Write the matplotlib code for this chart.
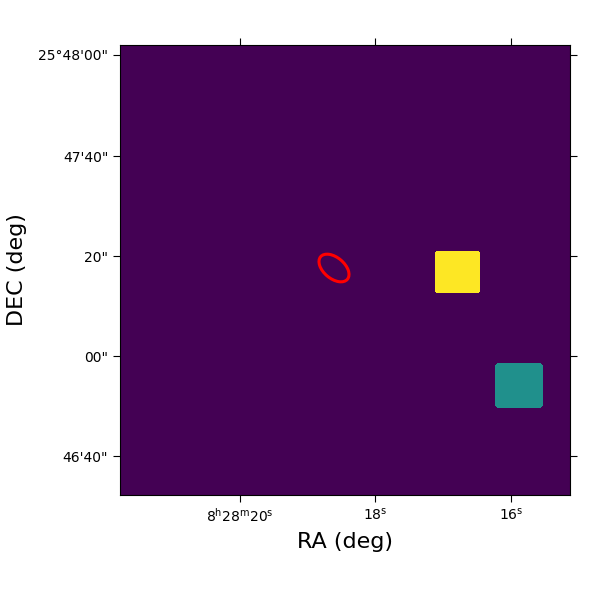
import numpy as np
import matplotlib.pyplot as plt
from matplotlib.patches import Ellipse

# image grid (1 pixel per screen pixel of the axes)
npix = 450
# boxes: value, x0, x1, y0, y1 (image pixels), corner cut
box_vals = [1.0, 0.5]
box_x = [(315, 360), (375, 423)]
box_y = [(206, 248), (318, 363)]
box_cut = [1, 2]

# ellipse region
ell_center = (214, 223)
ell_size = (35, 21)
ell_angle = 40

# ticks
ra_ticks = [120, 255, 391]
ra_labels = [r'8$^{\rm h}$28$^{\rm m}$20$^{\rm s}$', r'18$^{\rm s}$', r'16$^{\rm s}$']
dec_ticks = [10, 111, 211, 311, 411]
dec_labels = ['25°48\'00"', '47\'40"', '20"', '00"', '46\'40"']

img = np.zeros((npix, npix))
for v, (x0, x1), (y0, y1), c in zip(box_vals, box_x, box_y, box_cut):
    img[y0:y1, x0:x1] = v
    for k in range(c):
        w = c - k
        img[y0 + k, x0:x0 + w] = 0
        img[y0 + k, x1 - w:x1] = 0
        img[y1 - 1 - k, x0:x0 + w] = 0
        img[y1 - 1 - k, x1 - w:x1] = 0

fig = plt.figure(figsize=(6, 6), dpi=100)
ax = fig.add_axes([0.2, 0.175, 0.75, 0.75])
ax.imshow(img, cmap='viridis', vmin=0, vmax=1, origin='upper',
          extent=(0, npix, npix, 0), interpolation='nearest')
ax.add_patch(Ellipse(ell_center, ell_size[0], ell_size[1], angle=ell_angle,
                     fill=False, edgecolor='red', linewidth=2.2))

ax.set_xlim(0, npix)
ax.set_ylim(npix, 0)
ax.set_xticks(ra_ticks)
ax.set_xticklabels(ra_labels)
ax.set_yticks(dec_ticks)
ax.set_yticklabels(dec_labels)
ax.tick_params(direction='out', length=5, top=True, right=True,
               labeltop=False, labelright=False, labelsize=10)
ax.set_xlabel('RA (deg)', fontsize=16, labelpad=5)
ax.set_ylabel('DEC (deg)', fontsize=16, labelpad=8)

fig.savefig('out.png', dpi=100)
